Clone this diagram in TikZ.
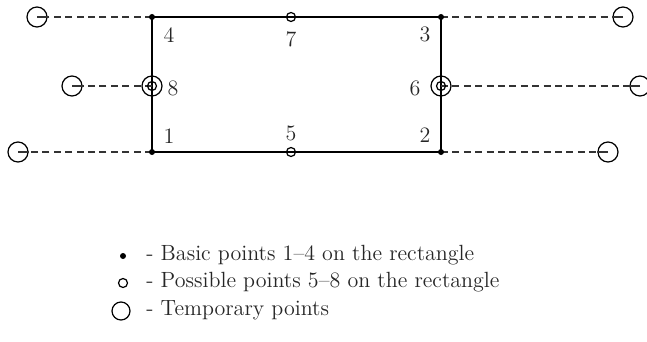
\documentclass[tikz,border=0pt]{standalone}
\usepackage{xcolor}
\usepackage{tikz}
\usetikzlibrary{positioning}

\begin{document}
\begin{tikzpicture}[
        x=0.5pt, y=-0.5pt,
        basic/.style={circle, fill=black, inner sep=0pt, minimum size=3pt},
        possible/.style={circle, draw, line width=0.6pt, inner sep=0pt, minimum size=4.5pt},
        temp/.style={circle, draw, line width=0.6pt, inner sep=0pt, minimum size=10pt},
        side/.style={line width=0.8pt},
        link/.style={dash pattern=on 3.5pt off 2.2pt, line width=0.6pt, black!80},
        stub/.style={line width=0.6pt, black!80},
        lbl/.style={font=\fontsize{11}{13}\selectfont, text=black!85, inner sep=0pt}
    ]
        \useasboundingbox (0,0) rectangle (647,342);

        % corners and midpoints of the rectangle
        \coordinate (p1) at (152,152);
        \coordinate (p2) at (441,152);
        \coordinate (p3) at (441,17);
        \coordinate (p4) at (152,17);
        \coordinate (p5) at (291,152);
        \coordinate (p6) at (441,86);
        \coordinate (p7) at (291,17);
        \coordinate (p8) at (152,86);

        \draw[side] (p1) -- (p2) -- (p3) -- (p4) -- cycle;

        % temporary points
        \node[temp] (t1) at (18,152) {};
        \node[temp] (t2) at (608,152) {};
        \node[temp] (t3) at (623,17) {};
        \node[temp] (t4) at (37,17) {};
        \node[temp] (t6) at (640,86) {};
        \node[temp] (t8) at (72,86) {};

        \draw[link] (p1) -- (t1.east);
        \draw[link] (p2) -- (t2.west);
        \draw[link] (p3) -- (t3.west);
        \draw[link] (p4) -- (t4.east);
        \draw[link] (p6) -- (t6.west);
        \draw[link] (p8) -- (t8.east);
        \draw[stub] (t1.center) -- (t1.east);
        \draw[stub] (t2.center) -- (t2.west);
        \draw[stub] (t3.center) -- (t3.west);
        \draw[stub] (t4.center) -- (t4.east);
        \draw[stub] (t6.center) -- (t6.west);
        \draw[stub] (t8.center) -- (t8.east);

        \node[basic] (b1) at (p1) {};
        \node[basic] (b2) at (p2) {};
        \node[basic] (b3) at (p3) {};
        \node[basic] (b4) at (p4) {};
        \node[possible] (c5) at (p5) {};
        \node[possible] (c7) at (p7) {};
        \node[possible] (c6) at (p6) {};
        \node[possible] (c8) at (p8) {};
        \node[temp] (r6) at (p6) {};
        \node[temp] (r8) at (p8) {};

        \node[lbl] (l1) at (169,136) {1};
        \node[lbl] (l2) at (425,135) {2};
        \node[lbl] (l3) at (425,34) {3};
        \node[lbl] (l4) at (169,35) {4};
        \node[lbl] (l5) at (291,133) {5};
        \node[lbl] (l6) at (415,88) {6};
        \node[lbl] (l7) at (291,39) {7};
        \node[lbl] (l8) at (173,88) {8};

        % legend
        \node[basic] (kb) at (123,256) {};
        \node[possible] (kp) at (123,283) {};
        \node[temp, minimum size=9pt] (kt) at (121,311) {};
        \node[lbl, anchor=base west] (tb) at (146,260) {- Basic points 1--4 on the rectangle};
        \node[lbl, anchor=base west] (tp) at (146,287) {- Possible points 5--8 on the rectangle};
        \node[lbl, anchor=base west] (tt) at (146,315) {- Temporary points};
    \end{tikzpicture}
\end{document}
